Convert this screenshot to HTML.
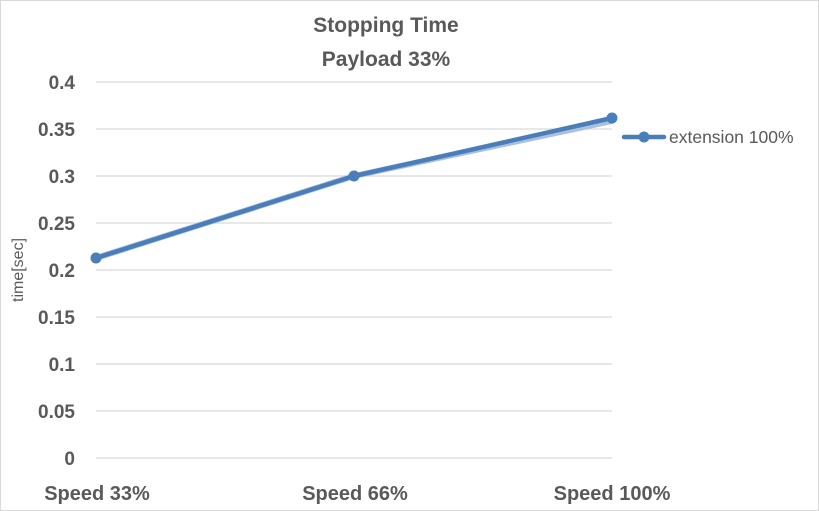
<!DOCTYPE html>
<html><head><meta charset="utf-8"><style>
body{margin:0;background:#fff}
svg{display:block}
text{font-family:"Liberation Sans",sans-serif;fill:#595959}
</style></head><body>
<svg width="819" height="511" viewBox="0 0 819 511">
<rect x="0.5" y="0.5" width="818" height="510" fill="#fff" stroke="#d9d9d9"/>
<text x="386" y="32" text-anchor="middle" font-size="21" font-weight="bold">Stopping Time</text>
<text x="386" y="66" text-anchor="middle" font-size="21" font-weight="bold">Payload 33%</text>
<g stroke="#d9d9d9" stroke-width="1.3">
<line x1="96" x2="612" y1="82" y2="82"/><line x1="96" x2="612" y1="129" y2="129"/>
<line x1="96" x2="612" y1="176" y2="176"/><line x1="96" x2="612" y1="223" y2="223"/>
<line x1="96" x2="612" y1="270" y2="270"/><line x1="96" x2="612" y1="317" y2="317"/>
<line x1="96" x2="612" y1="364" y2="364"/><line x1="96" x2="612" y1="411" y2="411"/>
<line x1="96" x2="612" y1="458" y2="458"/>
</g>
<g font-size="19" font-weight="bold" text-anchor="end">
<text x="75" y="89">0.4</text><text x="75" y="136">0.35</text><text x="75" y="183">0.3</text>
<text x="75" y="230">0.25</text><text x="75" y="277">0.2</text><text x="75" y="324">0.15</text>
<text x="75" y="371">0.1</text><text x="75" y="418">0.05</text><text x="75" y="465">0</text>
</g>
<text transform="translate(23,270) rotate(-90)" text-anchor="middle" font-size="16">time[sec]</text>
<g font-size="20" font-weight="bold" text-anchor="middle">
<text x="97" y="500">Speed 33%</text><text x="355" y="500">Speed 66%</text><text x="612" y="500">Speed 100%</text>
</g>
<polyline points="96,258 354,176 612,121" fill="none" stroke="#a9c0e0" stroke-width="6"/>
<polyline points="96,258 354,176 612,118" fill="none" stroke="#4a7ebb" stroke-width="4.5" stroke-linecap="round"/>
<g fill="#4a7ebb"><circle cx="96" cy="258" r="5.5"/><circle cx="354" cy="176" r="5.5"/><circle cx="612" cy="118" r="5.5"/></g>
<line x1="624" x2="664" y1="137" y2="137" stroke="#4a7ebb" stroke-width="4.5" stroke-linecap="round"/>
<circle cx="644" cy="137" r="5.5" fill="#4a7ebb"/>
<text x="669" y="143" font-size="17.5">extension 100%</text>
</svg>
</body></html>
